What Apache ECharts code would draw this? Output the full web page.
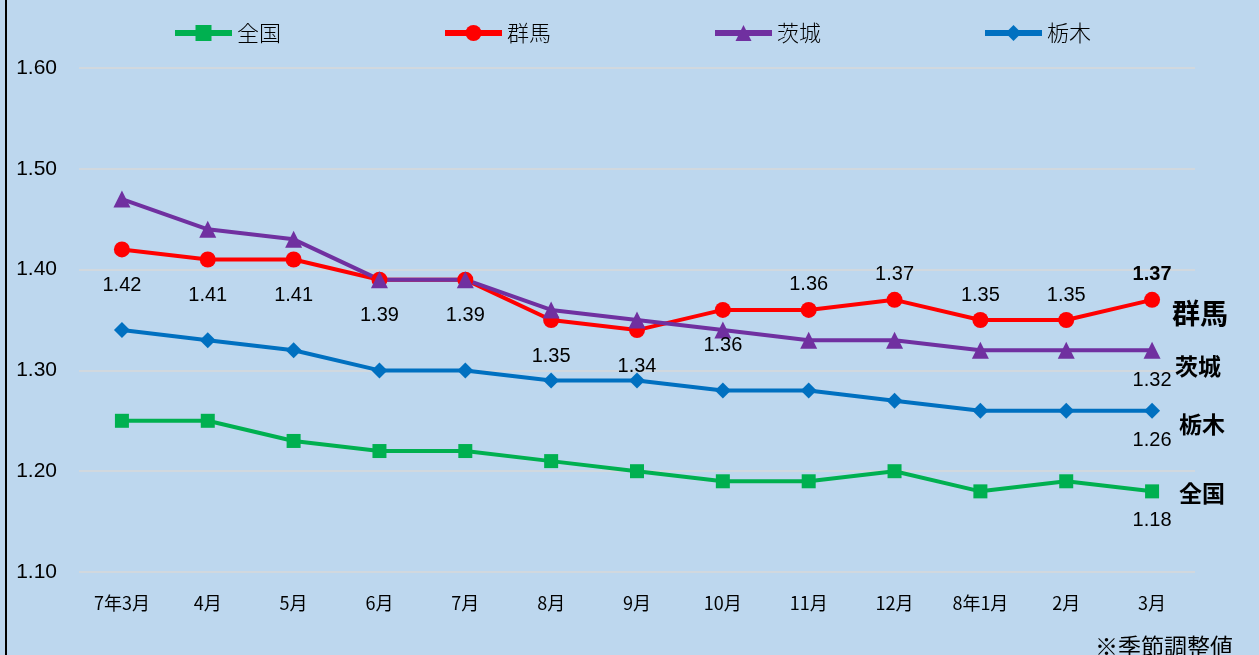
<!DOCTYPE html>
<html><head><meta charset="utf-8">
<script src="https://cdn.jsdelivr.net/npm/echarts@6/dist/echarts.min.js"></script>
<style>html,body{margin:0;padding:0;background:#BDD7EE;}#c{width:1259px;height:655px;}#b{position:absolute;left:5px;top:0;width:2px;height:655px;background:#000;}</style>
</head><body><div id="c"></div><div id="b"></div>
<script>
const categories = ['7年3月','4月','5月','6月','7月','8月','9月','10月','11月','12月','8年1月','2月','3月'];
const zenkoku = [1.25,1.25,1.23,1.22,1.22,1.21,1.20,1.19,1.19,1.20,1.18,1.19,1.18];
const gunma   = [1.42,1.41,1.41,1.39,1.39,1.35,1.34,1.36,1.36,1.37,1.35,1.35,1.37];
const ibaraki = [1.47,1.44,1.43,1.39,1.39,1.36,1.35,1.34,1.33,1.33,1.32,1.32,1.32];
const tochigi = [1.34,1.33,1.32,1.30,1.30,1.29,1.29,1.28,1.28,1.27,1.26,1.26,1.26];
const yTicks = [1.10,1.20,1.30,1.40,1.50,1.60];

const gunmaLabelSide = ['bottom','bottom','bottom','bottom','bottom','bottom','bottom','bottom','top','top','top','top','top'];
const numFont = '"Liberation Sans", "Noto Sans", sans-serif';
const jpFont = '"Noto Sans CJK JP", sans-serif';

function lastOnlyLabel(arr, side){
  return arr.map((v,i)=> i===arr.length-1 ? {value:v, label:{show:true, position:side, distance:12, fontSize:20, color:'#000', fontFamily:numFont, formatter: p=>p.value.toFixed(2)}} : v);
}
const gunmaData = gunma.map((v,i)=>({value:v, label:{show:true, position:gunmaLabelSide[i], distance: gunmaLabelSide[i]==='top'?7:18, fontSize:20, color:'#000', fontFamily:numFont, fontWeight: i===gunma.length-1?'bold':'normal', formatter:p=>p.value.toFixed(2)}}));

function endLbl(name, size, off){
  return {show:true, formatter:name, fontSize:size, fontWeight:'bold', color:'#000', fontFamily:jpFont, offset:off, distance:10};
}

const chart = echarts.init(document.getElementById('c'));
chart.setOption({
  backgroundColor:'#BDD7EE',
  animation:false,
  legend:{top:17, left:167, itemWidth:57, itemHeight:20, itemGap:161,
    lineStyle:{width:6},
    textStyle:{fontSize:22, fontFamily:jpFont, color:'#000', fontWeight:300},
    data:['全国','群馬','茨城','栃木']},
  grid:{left:79, right:64, top:68, bottom:83},
  xAxis:{type:'category', data:categories, boundaryGap:true,
    axisLine:{show:false}, axisTick:{show:false},
    axisLabel:{fontSize:18, color:'#000', margin:22, fontFamily:jpFont}},
  yAxis:{type:'value', min:1.10, max:1.60, interval:0.10,
    axisLine:{show:false}, axisTick:{show:false},
    splitLine:{lineStyle:{color:'#D9D9D9', width:1.5}},
    axisLabel:{fontSize:21, color:'#000', margin:22, fontFamily:numFont, formatter:v=>v.toFixed(2)}},
  graphic:[{type:'text', right:26, bottom:-3, style:{text:'※季節調整値', fontSize:23, fill:'#000', fontFamily:jpFont}}],
  series:[
    {name:'全国', type:'line', data:lastOnlyLabel(zenkoku,'bottom'), symbol:'rect', symbolSize:14,
      lineStyle:{width:4, color:'#00B050'}, itemStyle:{color:'#00B050'},
      endLabel:endLbl('全国',23,[17,2])},
    {name:'群馬', type:'line', data:gunmaData, symbol:'circle', symbolSize:16,
      lineStyle:{width:4, color:'#FF0000'}, itemStyle:{color:'#FF0000'},
      endLabel:endLbl('群馬',28,[10,14])},
    {name:'茨城', type:'line', data:lastOnlyLabel(ibaraki,'bottom'), symbol:'triangle', symbolSize:17,
      lineStyle:{width:4, color:'#7030A0'}, itemStyle:{color:'#7030A0'},
      endLabel:endLbl('茨城',23,[13,16])},
    {name:'栃木', type:'line', data:lastOnlyLabel(tochigi,'bottom'), symbol:'diamond', symbolSize:16,
      lineStyle:{width:4, color:'#0070C0'}, itemStyle:{color:'#0070C0'},
      endLabel:endLbl('栃木',23,[17,14])}
  ]
});
</script></body></html>
